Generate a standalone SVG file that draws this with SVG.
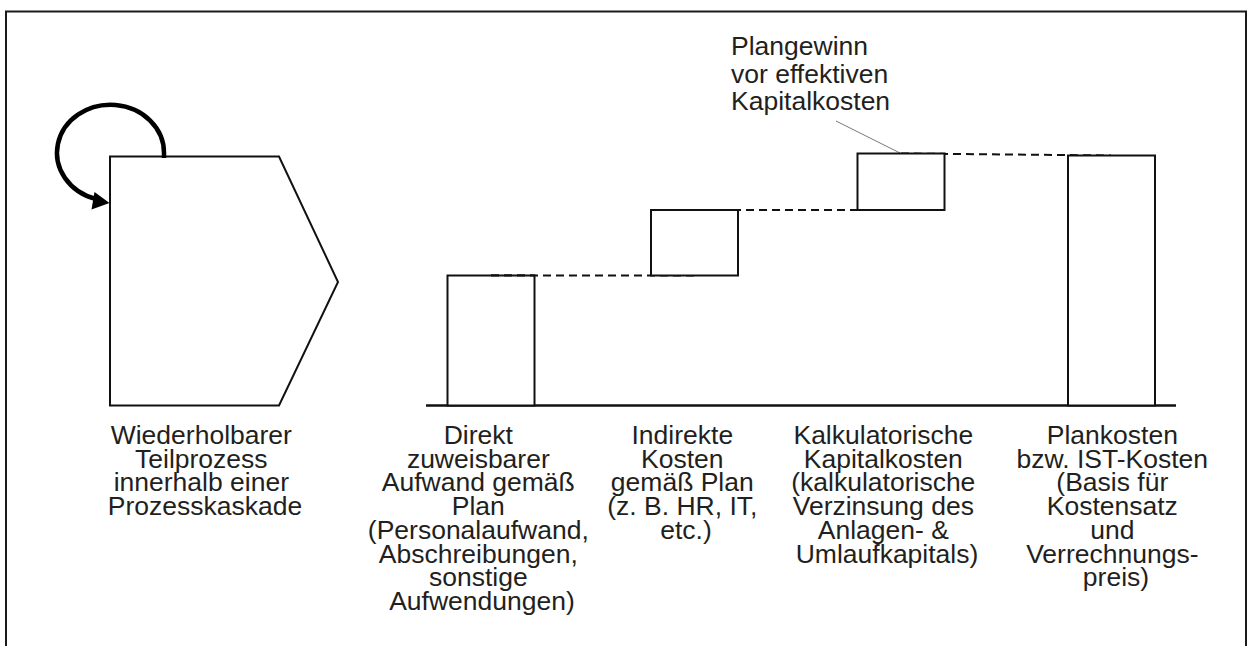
<svg xmlns="http://www.w3.org/2000/svg" width="1248" height="646" viewBox="0 0 1248 646">
  <style>
    .frame { fill: none; stroke: #1a1a1a; stroke-width: 2; }
    .shape { fill: #ffffff; stroke: #111111; stroke-width: 2; }
    .axis { fill: none; stroke: #111111; stroke-width: 2.5; }
    .dash { fill: none; stroke: #111111; stroke-width: 2; stroke-dasharray: 8 5; }
    .lead { fill: none; stroke: #777777; stroke-width: 1; }
    .loop { fill: none; stroke: #000000; stroke-width: 4.5; }
    text { font-family: "Liberation Sans", Arial, Helvetica, sans-serif; font-size: 26.5px; fill: #231f20; }
    .c { text-anchor: middle; }
  </style>

  <!-- outer frame (open at the bottom edge) -->
  <path class="frame" d="M6,660 V11.5 H1246 V660"/>

  <!-- repeatable sub-process with its loop arrow -->
  <g id="teilprozess">
    <polygon class="shape" points="110,156.5 279,156.5 338,282 279,405.5 110,405.5"/>
    <path class="loop" d="M164,158 V153 A53.5,48 0 1 0 96,199"/>
    <polygon fill="#000000" points="109.5,203 94.5,192 91.5,209.5"/>
    <text class="c" x="205" y="444">
      <tspan x="205" dy="0">Wiederholbarer</tspan>
      <tspan x="205" dy="23.7">Teilprozess</tspan>
      <tspan x="205" dy="23.7">innerhalb einer</tspan>
      <tspan x="205" dy="23.7">Prozesskaskade</tspan>
    </text>
  </g>

  <!-- baseline of the cost cascade -->
  <line class="axis" x1="426" y1="405.5" x2="1176" y2="405.5"/>

  <!-- connectors between bar levels -->
  <g id="connectors">
    <line class="dash" x1="491" y1="275.5" x2="694" y2="275.5"/>
    <line class="dash" x1="694" y1="210" x2="901" y2="210"/>
    <line class="dash" x1="901" y1="153.5" x2="1111" y2="155.5"/>
    <line class="lead" x1="836" y1="121" x2="900" y2="153"/>
  </g>

  <g id="direkt">
    <rect class="shape" x="447.5" y="275.5" width="87" height="130"/>
    <line class="dash" x1="491" y1="275.5" x2="534.5" y2="275.5"/>
    <text class="c" x="482" y="444">
      <tspan x="482" dy="0">Direkt</tspan>
      <tspan x="482" dy="23.7">zuweisbarer</tspan>
      <tspan x="482" dy="23.7">Aufwand gemäß</tspan>
      <tspan x="482" dy="23.7">Plan</tspan>
      <tspan x="482" dy="23.7">(Personalaufwand,</tspan>
      <tspan x="482" dy="23.7">Abschreibungen,</tspan>
      <tspan x="482" dy="23.7">sonstige</tspan>
      <tspan x="482" dy="23.7">Aufwendungen)</tspan>
    </text>
  </g>

  <g id="indirekt">
    <rect class="shape" x="651" y="210" width="87" height="65.5"/>
    <text class="c" x="686" y="444">
      <tspan x="686" dy="0">Indirekte</tspan>
      <tspan x="686" dy="23.7">Kosten</tspan>
      <tspan x="686" dy="23.7">gemäß Plan</tspan>
      <tspan x="686" dy="23.7">(z. B. HR, IT,</tspan>
      <tspan x="686" dy="23.7">etc.)</tspan>
    </text>
  </g>

  <g id="kapitalkosten">
    <rect class="shape" x="857.5" y="153.5" width="87" height="56.5"/>
    <text class="c" x="887" y="444">
      <tspan x="887" dy="0">Kalkulatorische</tspan>
      <tspan x="887" dy="23.7">Kapitalkosten</tspan>
      <tspan x="887" dy="23.7">(kalkulatorische</tspan>
      <tspan x="887" dy="23.7">Verzinsung des</tspan>
      <tspan x="887" dy="23.7">Anlagen- &amp;</tspan>
      <tspan x="887" dy="23.7">Umlaufkapitals)</tspan>
    </text>
  </g>

  <g id="plankosten">
    <rect class="shape" x="1068" y="155.5" width="87" height="250"/>
    <text class="c" x="1116" y="444">
      <tspan x="1116" dy="0">Plankosten</tspan>
      <tspan x="1116" dy="23.7">bzw. IST-Kosten</tspan>
      <tspan x="1116" dy="23.7">(Basis für</tspan>
      <tspan x="1116" dy="23.7">Kostensatz</tspan>
      <tspan x="1116" dy="23.7">und</tspan>
      <tspan x="1116" dy="23.7">Verrechnungs-</tspan>
      <tspan x="1116" dy="23.7">preis)</tspan>
    </text>
  </g>

  <g id="plangewinn">
    <text x="731" y="55">
      <tspan x="731" dy="0">Plangewinn</tspan>
      <tspan x="731" dy="27.5">vor effektiven</tspan>
      <tspan x="731" dy="27.5">Kapitalkosten</tspan>
    </text>
  </g>
</svg>
